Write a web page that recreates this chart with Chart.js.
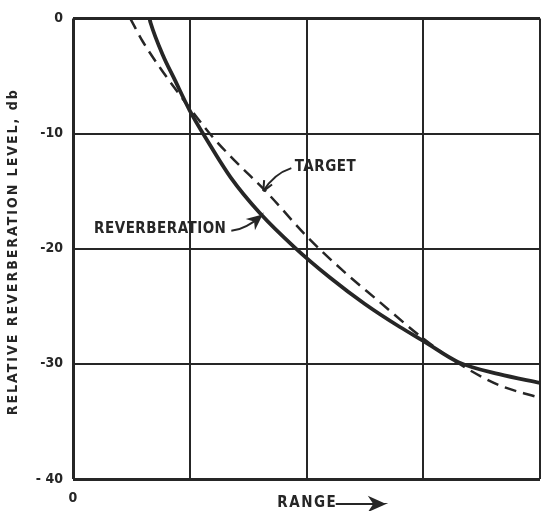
<!DOCTYPE html>
<html>
<head>
<meta charset="utf-8">
<script src="https://cdn.jsdelivr.net/npm/chart.js@4.4.1/dist/chart.umd.min.js"></script>
<style>
  html, body { margin: 0; padding: 0; background: #fff; }
  canvas { display: block; }
</style>
</head>
<body>
<canvas id="reverbChart" width="541" height="511"></canvas>
<script>
// values (range in grid units, level in db)
const reverbRange = [0.655, 0.665, 0.77, 0.87, 1.0, 1.15, 1.35, 1.6, 1.9, 2.2, 2.5, 2.8, 3.0, 3.3, 3.65, 4.0];
const reverbLevel = [0, -0.4, -3.2, -5.3, -8.0, -10.6, -13.8, -16.9, -19.9, -22.5, -24.8, -26.8, -28.0, -29.85, -30.9, -31.65];

const targetRange = [0.49, 0.6, 0.75, 0.9, 1.05, 1.2, 1.4, 1.65, 2.0, 2.3, 2.6, 3.0, 3.3, 3.65, 4.0];
const targetLevel = [0, -2.05, -4.35, -6.45, -8.45, -10.35, -12.5, -15.0, -18.9, -21.8, -24.4, -27.8, -29.95, -31.85, -32.95];

const yTickValues = [0, -10, -20, -30, -40];
const yTickLabels = ['0', '-10', '-20', '-30', '- 40'];
const xTickLabels = { 0: '0' };
const yTitle = 'RELATIVE REVERBERATION LEVEL, db';

const INK = '#262626';
const FONT = "'DejaVu Sans Condensed', 'DejaVu Sans', sans-serif";

function toPoints(xs, ys) {
  return xs.map((x, i) => ({ x: x, y: ys[i] }));
}

function arrowHead(ctx, x, y, angle, size, filled) {
  ctx.save();
  ctx.translate(x, y);
  ctx.rotate(angle);
  ctx.beginPath();
  ctx.moveTo(0, 0);
  ctx.lineTo(-size, -size * 0.45);
  if (filled) ctx.lineTo(-size * 0.7, 0);
  ctx.moveTo(0, 0);
  ctx.lineTo(-size, size * 0.45);
  if (filled) {
    ctx.lineTo(-size * 0.7, 0);
    ctx.closePath();
    ctx.fill();
  }
  ctx.stroke();
  ctx.restore();
}

// labels with arrows, placed in data coordinates
const labelPlugin = {
  id: 'labels',
  afterDraw(chart) {
    const ctx = chart.ctx;
    const area = chart.chartArea;
    const xs = chart.scales.x, ys = chart.scales.y;
    const px = v => xs.getPixelForValue(v);
    const py = v => ys.getPixelForValue(v);
    ctx.save();
    ctx.fillStyle = INK;
    ctx.strokeStyle = INK;
    ctx.lineWidth = 2;
    ctx.textBaseline = 'middle';

    // y axis title, spaced out like the lettering
    ctx.save();
    ctx.font = 'bold 14px ' + FONT;
    ctx.letterSpacing = '2px';
    ctx.translate(13, (area.top + area.bottom) / 2 + 3);
    ctx.rotate(-Math.PI / 2);
    ctx.textAlign = 'center';
    ctx.fillText(yTitle, 0, 0);
    ctx.restore();

    ctx.font = 'bold 15px ' + FONT;
    ctx.letterSpacing = '0.5px';

    // TARGET
    ctx.textAlign = 'left';
    ctx.fillText('TARGET', px(1.9), py(-12.9));
    let sx = px(1.87), sy = py(-13.0), tx = px(1.63), ty = py(-15.0);
    ctx.beginPath();
    ctx.moveTo(sx, sy);
    ctx.quadraticCurveTo(px(1.72), py(-13.5), tx, ty);
    ctx.stroke();
    arrowHead(ctx, tx, ty, Math.atan2(ty - py(-13.7), tx - px(1.7)), 10, false);

    // REVERBERATION
    ctx.textAlign = 'right';
    ctx.fillText('REVERBERATION', px(1.314), py(-18.3));
    sx = px(1.356); sy = py(-18.45); tx = px(1.61); ty = py(-17.15);
    ctx.beginPath();
    ctx.moveTo(sx, sy);
    ctx.quadraticCurveTo(px(1.48), py(-18.3), tx, ty);
    ctx.stroke();
    arrowHead(ctx, tx, ty, Math.atan2(ty - py(-17.9), tx - px(1.52)), 11, true);

    // RANGE ->
    const ry = area.bottom + 24;
    ctx.letterSpacing = '1.5px';
    ctx.textAlign = 'left';
    ctx.fillText('RANGE', px(1.75), ry);
    ctx.beginPath();
    ctx.moveTo(px(2.25), ry + 1);
    ctx.lineTo(px(2.64), ry + 1);
    ctx.stroke();
    arrowHead(ctx, px(2.66), ry + 1, 0, 13, true);
    ctx.restore();
  }
};

const ctx = document.getElementById('reverbChart').getContext('2d');
new Chart(ctx, {
  type: 'line',
  data: {
    datasets: [
      {
        label: 'Reverberation',
        data: toPoints(reverbRange, reverbLevel),
        borderColor: INK,
        borderWidth: 3.8,
        pointRadius: 0,
        cubicInterpolationMode: 'monotone',
        fill: false
      },
      {
        label: 'Target',
        data: toPoints(targetRange, targetLevel),
        borderColor: INK,
        borderWidth: 2.5,
        borderDash: [12, 7],
        pointRadius: 0,
        cubicInterpolationMode: 'monotone',
        fill: false
      }
    ]
  },
  options: {
    responsive: false,
    animation: false,
    devicePixelRatio: 1,
    layout: { padding: { left: 0, right: 1, top: 16, bottom: 0 } },
    plugins: {
      legend: { display: false },
      tooltip: { enabled: false }
    },
    scales: {
      x: {
        type: 'linear',
        min: 0,
        max: 4,
        border: { display: false },
        grid: {
          color: INK,
          drawTicks: true,
          tickLength: 11,
          tickColor: 'rgba(0,0,0,0)',
          lineWidth: c => (c.tick && (c.tick.value === 0 || c.tick.value === 4)) ? 3 : 2
        },
        ticks: {
          stepSize: 1,
          padding: 0,
          color: INK,
          font: { family: FONT, size: 14, weight: 'bold' },
          callback: v => xTickLabels[v] || ''
        },
        afterFit: scale => { scale.height = 32; }
      },
      y: {
        min: -40,
        max: 0,
        border: { display: false },
        grid: {
          color: INK,
          drawTicks: false,
          lineWidth: c => (c.tick && (c.tick.value === 0 || c.tick.value === -40)) ? 3 : 2
        },
        ticks: {
          stepSize: 10,
          padding: 10,
          color: INK,
          font: { family: FONT, size: 14, weight: 'bold' },
          callback: v => yTickLabels[yTickValues.indexOf(v)]
        },
        afterFit: scale => { scale.width = 73; }
      }
    }
  },
  plugins: [labelPlugin]
});
</script>
</body>
</html>
